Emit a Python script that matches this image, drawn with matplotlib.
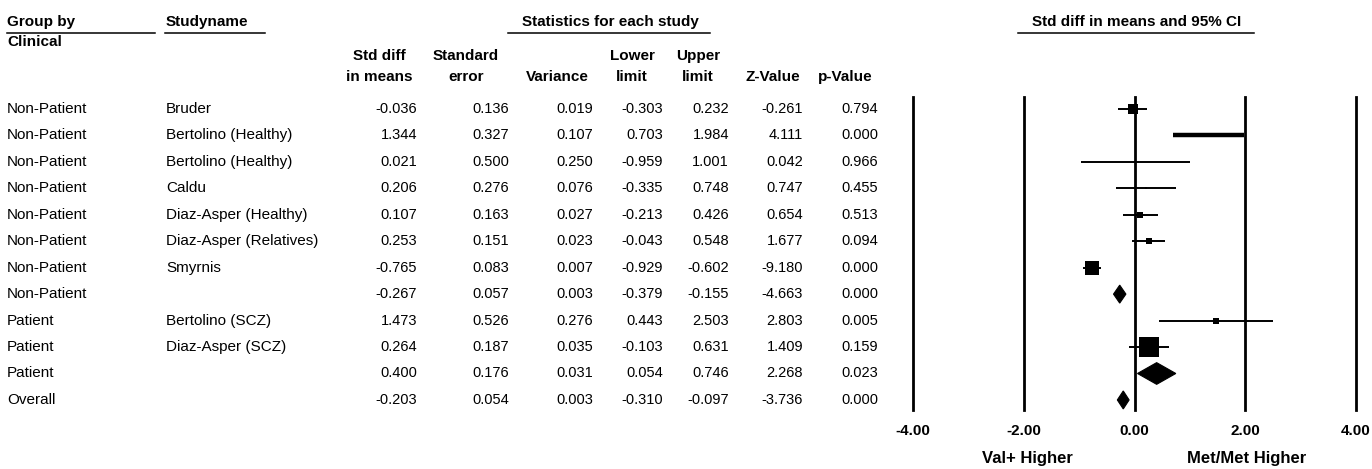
import matplotlib
matplotlib.use("Agg")
import matplotlib.pyplot as plt
import matplotlib.transforms as mtransforms
from matplotlib.patches import Polygon
from matplotlib.lines import Line2D

plt.rcParams['font.family'] = ['Liberation Sans', 'DejaVu Sans']

# ---------------- data ----------------
groups = ["Non-Patient", "Non-Patient", "Non-Patient", "Non-Patient", "Non-Patient",
          "Non-Patient", "Non-Patient", "Non-Patient", "Patient", "Patient", "Patient", "Overall"]
studies = ["Bruder", "Bertolino (Healthy)", "Bertolino (Healthy)", "Caldu",
           "Diaz-Asper (Healthy)", "Diaz-Asper (Relatives)", "Smyrnis", "",
           "Bertolino (SCZ)", "Diaz-Asper (SCZ)", "", ""]
std_diff = [-0.036, 1.344, 0.021, 0.206, 0.107, 0.253, -0.765, -0.267, 1.473, 0.264, 0.400, -0.203]
std_err = [0.136, 0.327, 0.500, 0.276, 0.163, 0.151, 0.083, 0.057, 0.526, 0.187, 0.176, 0.054]
variance = [0.019, 0.107, 0.250, 0.076, 0.027, 0.023, 0.007, 0.003, 0.276, 0.035, 0.031, 0.003]
lower = [-0.303, 0.703, -0.959, -0.335, -0.213, -0.043, -0.929, -0.379, 0.443, -0.103, 0.054, -0.310]
upper = [0.232, 1.984, 1.001, 0.748, 0.426, 0.548, -0.602, -0.155, 2.503, 0.631, 0.746, -0.097]
z_value = [-0.261, 4.111, 0.042, 0.747, 0.654, 1.677, -9.180, -4.663, 2.803, 1.409, 2.268, -3.736]
p_value = [0.794, 0.000, 0.966, 0.455, 0.513, 0.094, 0.000, 0.000, 0.005, 0.159, 0.023, 0.000]
is_summary = [False, False, False, False, False, False, False, True, False, False, True, True]
x_ticks = [-4, -2, 0, 2, 4]
x_tick_labels = ["-4.00", "-2.00", "0.00", "2.00", "4.00"]

# styles (box sizes in points, line widths)
box_sizes = [6.5, 0, 1.5, 1.5, 4.5, 4.5, 10.5, 0, 4.0, 14.0, 0, 0]
ci_widths = [1.4, 3.2, 1.4, 1.4, 1.4, 1.4, 1.4, 1.4, 1.4, 1.4, 1.4, 1.4]
diamond_half = [0, 0, 0, 0, 0, 0, 0, 0.34, 0, 0, 0.41, 0.34]

W, H = 1372, 469
fig = plt.figure(figsize=(W / 100, H / 100), dpi=100)

# forest axes: pixel box 913..1356 (x), 97..410 (y)
ax_l, ax_r, ax_t, ax_b = 913, 1356, 97, 410
ax = fig.add_axes([ax_l / W, 1 - ax_b / H, (ax_r - ax_l) / W, (ax_b - ax_t) / H])
ax.set_xlim(-4, 4)
ax.set_ylim(11.38, -0.45)
for s in ax.spines.values():
    s.set_visible(False)
ax.set_yticks([])
ax.set_xticks(x_ticks)
ax.set_xticklabels(x_tick_labels, fontsize=11, fontweight='bold')
ax.tick_params(axis='x', length=0, pad=10)
for xv in x_ticks:
    ax.axvline(xv, color='black', lw=2.0, clip_on=False)

n = len(std_diff)
for i in range(n):
    if is_summary[i]:
        h = diamond_half[i]
        poly = Polygon([[lower[i], i], [std_diff[i], i - h], [upper[i], i], [std_diff[i], i + h]],
                       closed=True, facecolor='black', edgecolor='black', lw=0.8)
        ax.add_patch(poly)
    else:
        ax.plot([lower[i], upper[i]], [i, i], color='black', lw=ci_widths[i], solid_capstyle='butt')
        if box_sizes[i] > 0:
            ax.plot([std_diff[i]], [i], marker='s', ms=box_sizes[i], color='black', mew=0)

# ---------------- table text ----------------
trans_rows = mtransforms.blended_transform_factory(fig.transFigure, ax.transData)

def fx(px):
    return px / W

def fy(py):
    return 1 - py / H

fs = 11
for i in range(n):
    fig.text(fx(7), i, groups[i], transform=trans_rows, fontsize=fs, va='center', ha='left')
    fig.text(fx(166), i, studies[i], transform=trans_rows, fontsize=fs, va='center', ha='left')

value_cols = [(std_diff, 417), (std_err, 509), (variance, 593), (lower, 663),
              (upper, 729), (z_value, 803), (p_value, 878)]
for vals, xr in value_cols:
    for i, v in enumerate(vals):
        fig.text(fx(xr), i, f"{v:.3f}", transform=trans_rows, fontsize=10.5, va='center', ha='right')

hdr = dict(fontsize=11, fontweight='bold', va='center')
fig.text(fx(7), fy(22), "Group by", ha='left', **hdr)
fig.text(fx(7), fy(42), "Clinical", ha='left', **hdr)
fig.text(fx(166), fy(22), "Studyname", ha='left', **hdr)
fig.text(fx(610), fy(22), "Statistics for each study", ha='center', **hdr)
fig.text(fx(1137), fy(22), "Std diff in means and 95% CI", ha='center', **hdr)

col_headers = [("Std diff\nin means", 379), ("Standard\nerror", 466), ("Variance", 557),
               ("Lower\nlimit", 632), ("Upper\nlimit", 698), ("Z-Value", 773), ("p-Value", 845)]
for txt, xc in col_headers:
    lines = txt.split("\n")
    if len(lines) == 2:
        fig.text(fx(xc), fy(56), lines[0], ha='center', **hdr)
        fig.text(fx(xc), fy(77), lines[1], ha='center', **hdr)
    else:
        fig.text(fx(xc), fy(77), lines[0], ha='center', **hdr)

for x0, x1 in [(7, 155), (165, 265), (508, 710), (1018, 1254)]:
    fig.add_artist(Line2D([fx(x0), fx(x1)], [fy(33), fy(33)], color='black', lw=1.1,
                          transform=fig.transFigure))

trans_lab = mtransforms.blended_transform_factory(ax.transData, fig.transFigure)
fig.text(-1.93, fy(458), "Val+ Higher", transform=trans_lab, ha='center', va='center',
         fontsize=12, fontweight='bold')
fig.text(2.03, fy(458), "Met/Met Higher", transform=trans_lab, ha='center', va='center',
         fontsize=12, fontweight='bold')

fig.savefig("out.png", dpi=100)
